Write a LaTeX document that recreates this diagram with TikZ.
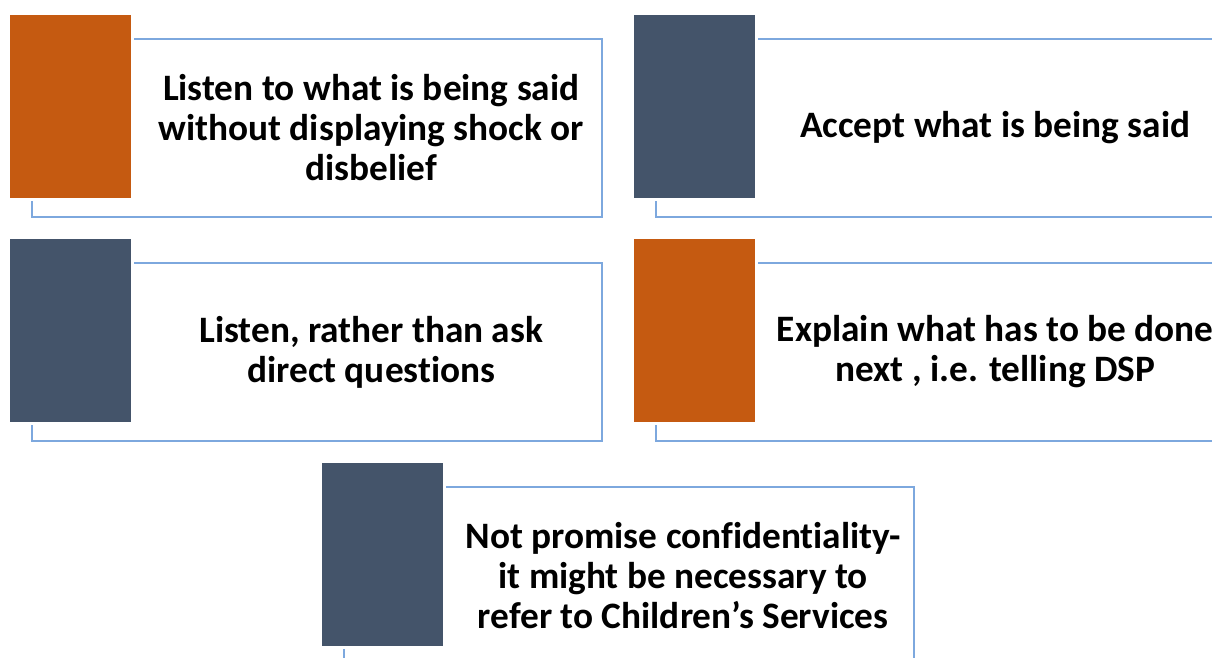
\documentclass[tikz,border=0pt]{standalone}
\usepackage{fontspec}
\setmainfont{Carlito}[Ligatures=NoCommon]
\usetikzlibrary{calc}
\definecolor{barorange}{RGB}{197,90,17}
\definecolor{barslate}{RGB}{68,84,106}
\definecolor{frameblue}{RGB}{125,168,222}
\begin{document}
\begin{tikzpicture}[x=1pt,y=-1pt,
  framebox/.style={draw=frameblue,line width=1.6pt,minimum width=570pt,minimum height=178pt,inner sep=0pt,outer sep=0pt,anchor=north west},
  barbox/.style={fill=#1,draw=white,line width=3pt,minimum width=124pt,minimum height=186pt,inner sep=0pt,outer sep=0pt,anchor=north west},
  itemtext/.style={font=\bfseries\fontsize{37.3}{40}\selectfont,align=center,inner sep=0pt,xshift=4pt}]
\useasboundingbox (0,0) rectangle (1212,657);
\clip (0,0) rectangle (1212,657);
% box 1
\node[framebox] (f1) at (32,39) {};
\node[barbox=barorange] (b1) at (8.5,13.5) {};
\node[itemtext] (t1) at ($(b1.east|-f1.center)!0.5!(f1.east)$) {Listen to what is being said\\without displaying shock or\\disbelief};
% box 2
\node[framebox] (f2) at (656,39) {};
\node[barbox=barslate] (b2) at (632.5,13.5) {};
\node[itemtext] (t2) at ($(b2.east|-f2.center)!0.5!(f2.east)$) {Accept what is being said};
% box 3
\node[framebox] (f3) at (32,263) {};
\node[barbox=barslate] (b3) at (8.5,237.5) {};
\node[itemtext] (t3) at ($(b3.east|-f3.center)!0.5!(f3.east)$) {Listen, rather than ask\\direct questions};
% box 4
\node[framebox] (f4) at (656,263) {};
\node[barbox=barorange] (b4) at (632.5,237.5) {};
\node[itemtext] (t4) at ($(b4.east|-f4.center)!0.5!(f4.east)$) {Explain what has to be done\\next , i.e. telling DSP};
% box 5
\node[framebox] (f5) at (344,487) {};
\node[barbox=barslate] (b5) at (320.5,461.5) {};
\node[itemtext] (t5) at ($(b5.east|-f5.center)!0.5!(f5.east)$) {Not promise confidentiality-\\it might be necessary to\\refer to Children’s Services};
\end{tikzpicture}
\end{document}
